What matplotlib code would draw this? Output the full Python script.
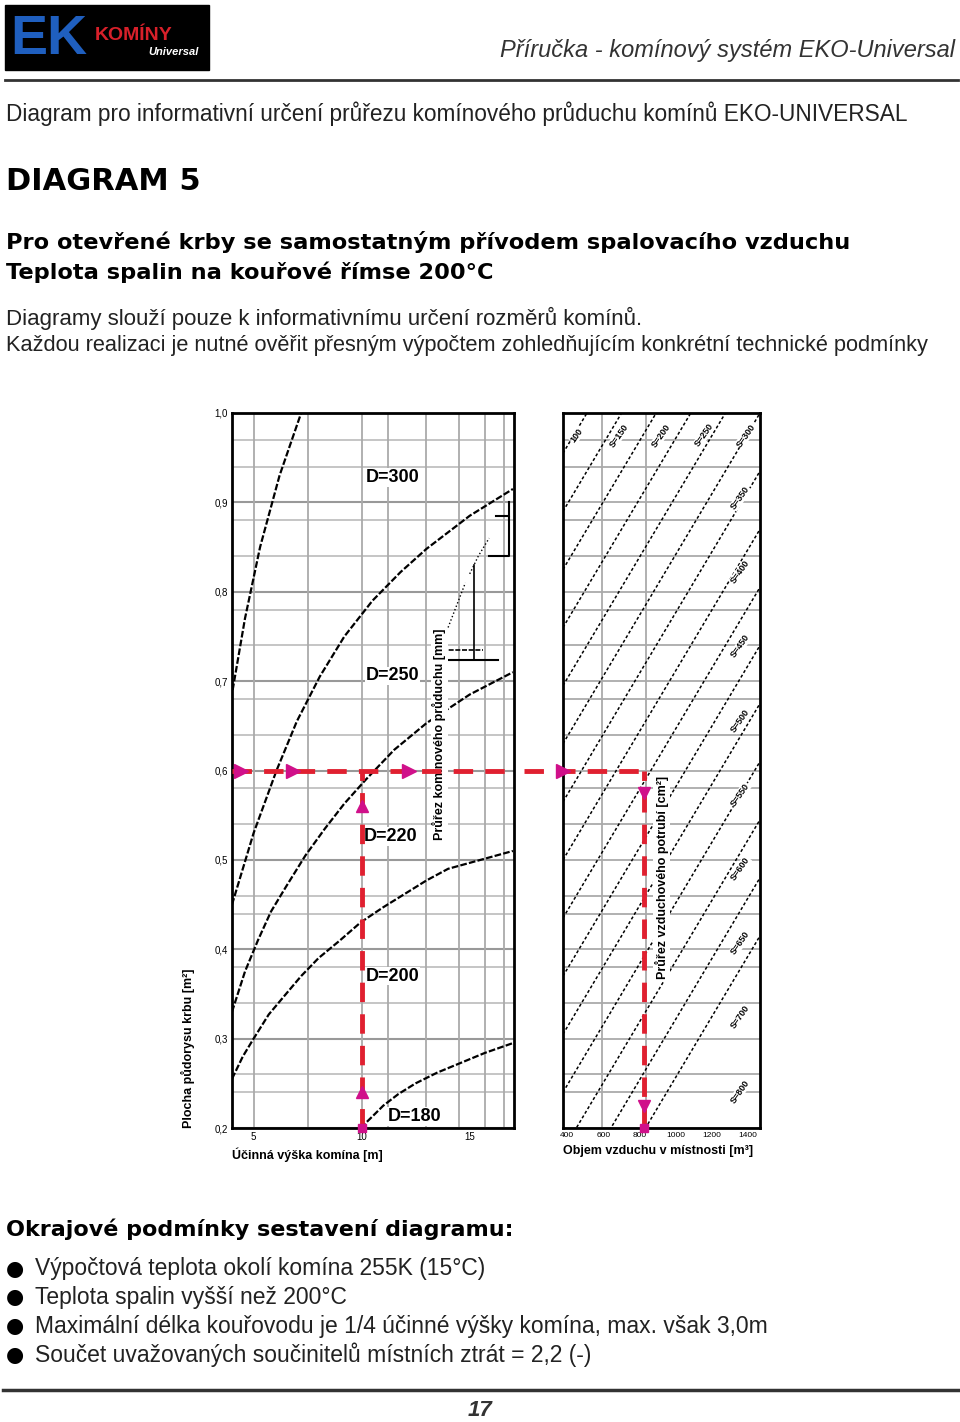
import matplotlib
matplotlib.use("Agg")
import matplotlib.pyplot as plt
import numpy as np
from matplotlib.patches import Rectangle

W, H = 960, 1422

# --- data ---
heights = [5, 10, 15]                       # effective chimney height [m]
areas = [0.2, 0.3, 0.4, 0.5, 0.6, 0.7, 0.8, 0.9, 1.0]
area_labels = ["0,2", "0,3", "0,4", "0,5", "0,6", "0,7", "0,8", "0,9", "1,0"]

curve_a_x = [4.03, 4.6, 5.3, 6.2, 7.2]
curve_a_y = [0.69, 0.77, 0.85, 0.93, 1.0]
curve_300_x = [4.0, 5.0, 6.06, 7.0, 8.06, 9.2, 10.5, 11.8, 13.0, 15.0, 17.0]
curve_300_y = [0.45, 0.53, 0.60, 0.655, 0.705, 0.75, 0.79, 0.822, 0.848, 0.885, 0.915]
curve_250_x = [4.0, 4.6, 5.2, 5.8, 6.5, 7.4, 8.3, 9.2, 10.2, 11.5, 13.0, 15.0, 17.0]
curve_250_y = [0.33, 0.375, 0.41, 0.442, 0.47, 0.505, 0.535, 0.563, 0.59, 0.623, 0.653, 0.685, 0.71]
curve_220_x = [4.0, 4.5, 5.0, 5.7, 6.5, 7.2, 8.0, 9.0, 9.95, 11.0, 12.0, 13.0, 14.0, 15.5, 17.0]
curve_220_y = [0.255, 0.28, 0.30, 0.327, 0.35, 0.37, 0.39, 0.41, 0.43, 0.447, 0.462, 0.477, 0.49, 0.50, 0.51]
curve_180_x = [9.95, 10.5, 11.0, 11.7, 12.5, 13.5, 14.5, 15.7, 17.0]
curve_180_y = [0.2, 0.213, 0.225, 0.238, 0.25, 0.262, 0.272, 0.284, 0.295]

diam_labels = ["D=300", "D=250", "D=220", "D=200", "D=180"]
diam_pos = [(10.2, 0.928), (10.2, 0.706), (10.1, 0.526), (10.2, 0.37), (11.2, 0.213)]

volume_ticks = ["400", "600", "800", "1000", "1200", "1400"]
duct_offsets = [1.02, 0.955, 0.89, 0.825, 0.76, 0.695, 0.63, 0.565, 0.50,
                0.435, 0.37, 0.305, 0.24, 0.175, 0.11, 0.045]
duct_labels_top = ["100", "S=150", "S=200", "S=250", "S=300"]
duct_labels_right = ["S=350", "S=400", "S=450", "S=500", "S=550",
                     "S=600", "S=650", "S=700", "S=800"]

sel_height = 10
sel_area = 0.6
sel_volume = 0.41

plt.rcParams["font.family"] = ["Liberation Sans", "DejaVu Sans"]
BOLD = ["DejaVu Sans"]


def fx(px):
    return px / W


def fy(py):
    return 1 - py / H


fig = plt.figure(figsize=(9.6, 14.22), dpi=100)

# header
fig.patches.append(Rectangle((fx(5), fy(70)), fx(204), 65 / H, transform=fig.transFigure,
                             color="black"))
fig.text(fx(10), fy(40), "EK", color="#1f5fbf", fontsize=40, fontweight="bold", va="center")
fig.text(fx(95), fy(36), "KOMÍNY", color="#d8202a", fontsize=14, fontweight="bold", va="center")
fig.text(fx(148), fy(52), "Universal", color="white", fontsize=8, style="italic",
         fontweight="bold", va="center")
fig.text(fx(955), fy(57), "Příručka - komínový systém EKO-Universal", ha="right",
         fontsize=17, style="italic", color="#333333")
fig.add_artist(plt.Line2D([fx(5), fx(958)], [fy(80), fy(80)], color="#333333", lw=2))

fig.text(fx(6), fy(114), "Diagram pro informativní určení průřezu komínového průduchu komínů EKO-UNIVERSAL",
         fontsize=16.3, va="center", color="#222222")
fig.text(fx(6), fy(182), "DIAGRAM 5", fontsize=22, fontweight="bold", va="center", family=BOLD)
fig.text(fx(6), fy(242), "Pro otevřené krby se samostatným přívodem spalovacího vzduchu",
         fontsize=16.2, fontweight="bold", va="center", family=BOLD)
fig.text(fx(6), fy(272), "Teplota spalin na kouřové římse 200°C",
         fontsize=16.2, fontweight="bold", va="center", family=BOLD)
fig.text(fx(6), fy(318), "Diagramy slouží pouze k informativnímu určení rozměrů komínů.",
         fontsize=16, va="center", color="#222222")
fig.text(fx(6), fy(345), "Každou realizaci je nutné ověřit přesným výpočtem zohledňujícím konkrétní technické podmínky",
         fontsize=15.7, va="center", color="#222222")

# left diagram
ax = fig.add_axes([fx(232), fy(1128), (514 - 232) / W, (1128 - 413) / H])
ax.set_xlim(4.0, 17.05)
ax.set_ylim(0.2, 1.0)
for y in [0.24, 0.26, 0.34, 0.38, 0.44, 0.46, 0.54, 0.58, 0.64, 0.68, 0.74, 0.78,
          0.84, 0.88, 0.94, 0.97]:
    ax.axhline(y, color="#bbbbbb", lw=1.2, zorder=0)
for y in areas:
    ax.axhline(y, color="#999999", lw=1.5, zorder=0)
for x in [5, 7.5, 10, 11.2, 13, 14.5, 15.7, 16.6]:
    ax.axvline(x, color="#aaaaaa", lw=1.3, zorder=0)
for xs, ys in [(curve_a_x, curve_a_y), (curve_300_x, curve_300_y), (curve_250_x, curve_250_y),
               (curve_220_x, curve_220_y), (curve_180_x, curve_180_y)]:
    ax.plot(xs, ys, color="black", lw=1.6, ls=(0, (3, 1)))
for lab, (x, y) in zip(diam_labels, diam_pos):
    ax.text(x, y, lab, fontsize=13, fontweight="bold", va="center",
            bbox=dict(fc="white", ec="none", pad=0.5))
ax.set_xticks(heights)
ax.set_xticklabels([str(h) for h in heights], fontsize=7)
ax.set_yticks(areas)
ax.set_yticklabels(area_labels, fontsize=7)
ax.tick_params(length=0, pad=3)
for s in ax.spines.values():
    s.set_linewidth(2)
ax.set_xlabel("Účinná výška komína [m]", fontsize=9, fontweight="bold", loc="left", labelpad=4)
ax.set_ylabel("Plocha půdorysu krbu [m²]", fontsize=9, fontweight="bold", loc="bottom", labelpad=14)
ax.text(13.6, 0.64, "Průřez komínového průduchu [mm]", rotation=90, fontsize=9,
        fontweight="bold", ha="center", va="center", bbox=dict(fc="white", ec="none", pad=1))
ax.axhline(sel_area, xmin=0, xmax=1, color="#e02030", lw=3.5, ls=(0, (4, 2.5)), zorder=4)
ax.plot([sel_height, sel_height], [0.2, sel_area], color="#e02030", lw=3.5,
        ls=(0, (4, 2.5)), zorder=4)
for x in [4.4, 6.8, 12.2]:
    ax.plot(x, sel_area, marker=">", color="#d0108a", ms=10, zorder=5, clip_on=False)
for y in [0.56, 0.24]:
    ax.plot(sel_height, y, marker="^", color="#d0108a", ms=8, zorder=5)
ax.plot(sel_height, 0.2, marker="s", color="#d0108a", ms=6, zorder=5, clip_on=False)

# small chimney sketch
ax.plot([13.7, 16.3], [0.724, 0.724], color="black", lw=1.5)
ax.plot([13.7, 15.6], [0.735, 0.735], color="black", lw=1.2, ls=(0, (3, 1)))
ax.plot([15.2, 15.2], [0.724, 0.83], color="black", lw=1.2)
ax.plot([15.9, 16.8, 16.8, 16.2], [0.84, 0.84, 0.885, 0.885], color="black", lw=1.5)
ax.plot([16.8, 16.8], [0.885, 0.9], color="black", lw=1.5)
ax.plot([15.0, 15.4, 15.9], [0.82, 0.84, 0.86], color="black", lw=1, ls=":")
ax.plot([14.0, 14.8], [0.76, 0.81], color="black", lw=1, ls=":")

# right diagram
ax2 = fig.add_axes([fx(563), fy(1128), (760 - 563) / W, (1128 - 413) / H])
ax2.set_xlim(0, 1)
ax2.set_ylim(0.2, 1.0)
for y in [0.24, 0.26, 0.34, 0.38, 0.44, 0.46, 0.54, 0.58, 0.64, 0.68, 0.74, 0.78,
          0.84, 0.88, 0.94, 0.97] + areas:
    ax2.axhline(y, color="#aaaaaa", lw=1.3, zorder=0)
for x in [0.2, 0.42]:
    ax2.axvline(x, color="#aaaaaa", lw=1.3, zorder=0)
t = np.array([0.0, 1.0])
for b in duct_offsets:
    ax2.plot(t, b + 0.37 * t, color="black", lw=1.1, ls=(0, (2, 1.5)))
for i, lab in enumerate(duct_labels_top):
    ax2.text(0.07 + i * 0.215, 0.975, lab, rotation=55, fontsize=6.5, fontweight="bold",
             ha="center", va="center", bbox=dict(fc="white", ec="none", pad=0.3))
for i, lab in enumerate(duct_labels_right):
    ax2.text(0.9, 0.905 - i * 0.083, lab, rotation=55, fontsize=6.5, fontweight="bold",
             ha="center", va="center", bbox=dict(fc="white", ec="none", pad=0.3))
ax2.set_xticks(np.linspace(0.02, 0.94, len(volume_ticks)))
ax2.set_xticklabels(volume_ticks, fontsize=6)
ax2.set_yticks([])
ax2.tick_params(length=0, pad=3)
for s in ax2.spines.values():
    s.set_linewidth(2)
ax2.set_xlabel("Objem vzduchu v místnosti [m³]", fontsize=9, fontweight="bold", loc="left",
               labelpad=4)
ax2.text(0.5, 0.48, "Průřez vzduchového potrubí [cm²]", rotation=90, fontsize=9,
         fontweight="bold", ha="center", va="center", bbox=dict(fc="white", ec="none", pad=1))
ax2.plot([-0.2, sel_volume], [sel_area, sel_area], color="#e02030", lw=3.5,
         ls=(0, (4, 2.5)), zorder=4, clip_on=False)
ax2.plot([sel_volume, sel_volume], [0.2, sel_area], color="#e02030", lw=3.5,
         ls=(0, (4, 2.5)), zorder=4)
ax2.plot(0.0, sel_area, marker=">", color="#d0108a", ms=10, zorder=5, clip_on=False)
for y in [0.575, 0.225]:
    ax2.plot(sel_volume, y, marker="v", color="#d0108a", ms=8, zorder=5)
ax2.plot(sel_volume, 0.2, marker="s", color="#d0108a", ms=6, zorder=5, clip_on=False)

# boundary conditions
fig.text(fx(6), fy(1229), "Okrajové podmínky sestavení diagramu:", fontsize=16,
         fontweight="bold", va="center", family=BOLD)
conditions = ["Výpočtová teplota okolí komína 255K (15°C)",
              "Teplota spalin vyšší než 200°C",
              "Maximální délka kouřovodu je 1/4 účinné výšky komína, max. však 3,0m",
              "Součet uvažovaných součinitelů místních ztrát = 2,2 (-)"]
for i, c in enumerate(conditions):
    y = 1269 + i * 28.5
    fig.text(fx(6), fy(y), "●", fontsize=15, va="center", family="DejaVu Sans")
    fig.text(fx(35), fy(y), c, fontsize=16.5, va="center", color="#222222")

fig.add_artist(plt.Line2D([fx(3), fx(958)], [fy(1390), fy(1390)], color="#333333", lw=2.5))
fig.text(fx(480), fy(1411), "17", fontsize=16, style="italic", fontweight="bold",
         ha="center", va="center", color="#333333")

fig.savefig("out.png", dpi=100)
